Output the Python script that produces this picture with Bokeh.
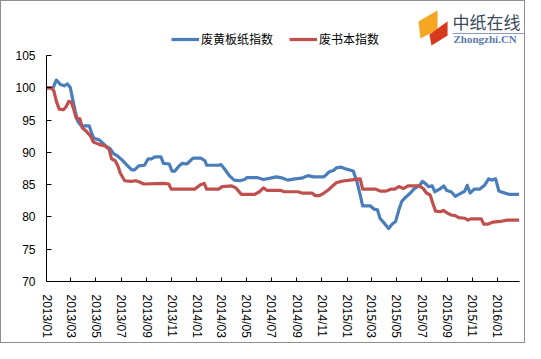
import pandas as pd
from bokeh.plotting import figure
from bokeh.models import (FixedTicker, DatetimeTickFormatter, Legend, LegendItem,
                          Label, PolyAnnotation, Range1d)
from bokeh.embed import file_html
from bokeh.resources import INLINE

series_names = ["废黄板纸指数", "废书本指数"]

blue_dates = ["2013-01-01", "2013-01-17", "2013-01-25", "2013-02-04", "2013-02-13", "2013-02-21",
              "2013-02-28", "2013-03-05", "2013-03-12", "2013-03-18", "2013-03-27", "2013-04-15",
              "2013-04-21", "2013-04-26", "2013-05-10", "2013-05-23", "2013-06-04", "2013-06-13",
              "2013-06-21", "2013-07-04", "2013-07-16", "2013-07-27", "2013-08-03", "2013-08-13",
              "2013-08-27", "2013-09-05", "2013-09-13", "2013-09-21", "2013-10-06", "2013-10-12",
              "2013-10-26", "2013-11-02", "2013-11-09", "2013-11-19", "2013-11-27", "2013-12-08",
              "2013-12-23", "2014-01-11", "2014-01-21", "2014-01-25", "2014-02-23", "2014-03-01",
              "2014-03-11", "2014-03-21", "2014-04-02", "2014-04-15", "2014-04-27", "2014-05-03",
              "2014-05-27", "2014-06-12", "2014-06-29", "2014-07-13", "2014-07-29", "2014-08-10",
              "2014-08-27", "2014-09-13", "2014-09-28", "2014-10-12", "2014-11-06", "2014-11-19",
              "2014-11-29", "2014-12-06", "2014-12-18", "2014-12-31", "2015-01-16", "2015-01-25",
              "2015-02-02", "2015-02-08", "2015-02-27", "2015-03-08", "2015-03-16", "2015-03-22",
              "2015-04-02", "2015-04-12", "2015-04-21", "2015-04-29", "2015-05-07", "2015-05-14",
              "2015-05-24", "2015-06-04", "2015-06-12", "2015-06-21", "2015-06-27", "2015-07-03",
              "2015-07-10", "2015-07-18", "2015-07-27", "2015-08-02", "2015-08-14", "2015-08-24",
              "2015-08-31", "2015-09-11", "2015-09-21", "2015-10-03", "2015-10-14", "2015-10-20",
              "2015-10-27", "2015-11-06", "2015-11-19", "2015-12-01", "2015-12-11", "2015-12-18",
              "2015-12-28", "2016-01-05", "2016-01-14", "2016-01-29", "2016-02-23"]
blue_values = [100.0, 100.0, 101.2, 100.5, 100.3, 100.6,
               100.0, 98.4, 96.3, 94.8, 94.1, 94.1,
               92.9, 92.2, 91.9, 91.1, 90.6, 89.8,
               89.5, 88.8, 88.0, 87.3, 87.3, 87.9,
               88.0, 89.0, 89.0, 89.3, 89.3, 88.3,
               88.2, 87.1, 87.1, 87.9, 88.3, 88.2,
               89.1, 89.1, 88.7, 88.0, 88.0, 88.1,
               87.3, 86.4, 85.7, 85.6, 85.8, 86.1,
               86.1, 85.8, 86.0, 86.2, 86.0, 85.7,
               85.9, 86.0, 86.4, 86.2, 86.2, 87.0,
               87.2, 87.6, 87.7, 87.4, 87.1, 85.5,
               83.4, 81.7, 81.7, 81.2, 81.1, 79.8,
               79.0, 78.2, 78.9, 79.3, 81.1, 82.4,
               83.1, 83.7, 84.3, 84.7, 84.9, 85.5,
               85.2, 84.7, 84.8, 83.9, 84.3, 84.8,
               84.1, 83.9, 83.2, 83.6, 84.0, 84.9,
               83.7, 84.3, 84.3, 84.9, 85.9, 85.7,
               85.9, 84.0, 83.8, 83.5, 83.5]

red_dates = ["2013-01-01", "2013-01-13", "2013-01-19", "2013-01-25", "2013-02-01", "2013-02-11",
             "2013-02-18", "2013-02-24", "2013-03-02", "2013-03-08", "2013-03-14", "2013-03-23",
             "2013-03-29", "2013-04-09", "2013-04-19", "2013-04-25", "2013-05-10", "2013-05-23",
             "2013-06-02", "2013-06-08", "2013-06-17", "2013-06-24", "2013-06-29", "2013-07-10",
             "2013-07-25", "2013-08-06", "2013-08-15", "2013-08-25", "2013-10-12", "2013-10-25",
             "2013-10-31", "2013-12-10", "2013-12-27", "2014-01-08", "2014-01-19", "2014-01-25",
             "2014-02-23", "2014-03-04", "2014-03-27", "2014-04-06", "2014-04-19", "2014-05-22",
             "2014-06-02", "2014-06-12", "2014-06-21", "2014-07-24", "2014-08-02", "2014-09-04",
             "2014-09-13", "2014-10-08", "2014-10-16", "2014-10-26", "2014-11-06", "2014-11-17",
             "2014-11-27", "2014-12-06", "2014-12-18", "2014-12-27", "2015-01-08", "2015-02-02",
             "2015-02-08", "2015-03-12", "2015-03-23", "2015-04-06", "2015-04-17", "2015-04-27",
             "2015-05-07", "2015-05-18", "2015-05-29", "2015-06-25", "2015-07-05", "2015-07-13",
             "2015-07-22", "2015-07-27", "2015-08-04", "2015-08-16", "2015-08-23", "2015-09-02",
             "2015-09-11", "2015-09-21", "2015-09-29", "2015-10-14", "2015-10-22", "2015-10-29",
             "2015-11-23", "2015-11-29", "2015-12-10", "2015-12-22", "2016-01-08", "2016-01-25",
             "2016-02-23"]
red_values = [100.0, 100.0, 99.5, 97.9, 96.7, 96.6,
              97.1, 97.9, 97.8, 96.7, 95.3, 95.2,
              93.8, 93.2, 92.4, 91.6, 91.2, 91.0,
              90.5, 89.0, 88.7, 87.8, 86.8, 85.6,
              85.5, 85.6, 85.4, 85.1, 85.2, 85.1,
              84.3, 84.3, 84.3, 84.9, 85.2, 84.3,
              84.3, 84.7, 84.8, 84.5, 83.5, 83.5,
              83.9, 84.5, 84.1, 84.1, 83.9, 83.9,
              83.7, 83.7, 83.3, 83.3, 83.7, 84.2,
              84.8, 85.3, 85.5, 85.6, 85.7, 85.9,
              84.3, 84.3, 84.0, 84.0, 84.3, 84.3,
              84.7, 84.4, 84.8, 84.8, 84.4, 83.7,
              83.4, 82.4, 80.9, 80.8, 81.0, 80.6,
              80.3, 80.2, 79.9, 79.8, 79.5, 79.7,
              79.7, 78.9, 78.9, 79.2, 79.3, 79.5,
              79.5]

tick_labels = ["2013/01", "2013/03", "2013/05", "2013/07", "2013/09", "2013/11",
               "2014/01", "2014/03", "2014/05", "2014/07", "2014/09", "2014/11",
               "2015/01", "2015/03", "2015/05", "2015/07", "2015/09", "2015/11",
               "2016/01"]
y_ticks = [70, 75, 80, 85, 90, 95, 100, 105]
x_start, x_end = "2013-01-01", "2016-02-24"

FONT = "Liberation Sans"
CJK = "Noto Sans CJK SC"
BLUE = "#4a7ebb"
RED = "#c0504d"

W, H = 525, 343
FL = 45            # canvas x of the y axis
AXIS_BOTTOM = 280  # canvas y of the x axis
AXIS_TOP = 54      # canvas y of the 105 tick
AXIS_RIGHT = 518   # canvas x of the end of the x axis
FB = H - AXIS_BOTTOM

# extend ranges so that the frame fills the canvas top/right; axes bounded
ymin, ymax = min(y_ticks), max(y_ticks)
plot_h = AXIS_BOTTOM - AXIS_TOP
y_top = ymax + (ymax - ymin) * AXIS_TOP / plot_h
t0, t1 = pd.Timestamp(x_start), pd.Timestamp(x_end)
frame_w = W - FL
axis_w = AXIS_RIGHT - FL
t_far = t0 + (t1 - t0) * (frame_w / axis_w)

p = figure(width=W, height=H, x_axis_type="datetime", output_backend="svg",
           toolbar_location=None, tools="",
           x_range=Range1d(t0, t_far), y_range=Range1d(ymin, y_top))
p.min_border_left = FL
p.min_border_right = 0
p.min_border_top = 0
p.min_border_bottom = FB
p.outline_line_color = None
p.xgrid.visible = False
p.ygrid.visible = False
p.background_fill_color = "white"
p.border_fill_color = "white"
p.styles = {"border": "1px solid #8f8f8f", "box-sizing": "border-box"}

bx = pd.to_datetime(blue_dates)
rx = pd.to_datetime(red_dates)
lb = p.line(bx, blue_values, line_color=BLUE, line_width=3.2, line_join="round")
lr = p.line(rx, red_values, line_color=RED, line_width=3.2, line_join="round")

# axes
tick_ms = [pd.Timestamp(t.replace("/", "-") + "-01").value / 1e6 for t in tick_labels]
p.xaxis.ticker = FixedTicker(ticks=tick_ms)
p.xaxis.bounds = (t0, t1)
fmt = "%Y/%m"
p.xaxis.formatter = DatetimeTickFormatter(years=fmt, months=fmt, days=fmt, hours=fmt,
                                          minutes=fmt, seconds=fmt, milliseconds=fmt,
                                          microseconds=fmt, hourmin=fmt, minsec=fmt)
p.xaxis.major_label_orientation = "vertical"
p.xaxis.major_label_standoff = 13
p.xaxis.major_tick_in = 4
p.xaxis.major_tick_out = 0
p.xaxis.minor_tick_line_color = None
p.yaxis.ticker = FixedTicker(ticks=y_ticks)
p.yaxis.bounds = (ymin, ymax)
p.yaxis.major_tick_in = 5
p.yaxis.major_tick_out = 0
p.yaxis.minor_tick_line_color = None
p.yaxis.major_label_standoff = 11
for ax in (p.xaxis, p.yaxis):
    ax.axis_line_color = "black"
    ax.axis_line_width = 1
    ax.major_tick_line_color = "black"
    ax.major_label_text_font = FONT
    ax.major_label_text_font_size = "12px"
    ax.major_label_text_color = "black"

# helpers: reference image px -> screen units relative to frame (y up)
def sx(X):
    return X - FL

def sy(Y):
    return AXIS_BOTTOM - Y

legend = Legend(items=[LegendItem(label=series_names[0], renderers=[lb]),
                       LegendItem(label=series_names[1], renderers=[lr])],
                orientation="horizontal", location=(sx(170), sy(46)),
                glyph_width=28, glyph_height=12, label_standoff=2, spacing=16,
                padding=0, margin=0, border_line_color=None,
                background_fill_alpha=0,
                label_text_font=CJK, label_text_font_size="12px",
                label_text_color="black")
p.add_layout(legend, "center")

# logo
p.add_layout(PolyAnnotation(xs=[sx(417), sx(436), sx(436), sx(419)],
                            ys=[sy(20), sy(9), sy(28), sy(37)],
                            xs_units="screen", ys_units="screen",
                            fill_color="#f5a623", fill_alpha=1, line_color="#f0b040", line_width=0.5))
p.add_layout(PolyAnnotation(xs=[sx(428), sx(446), sx(446), sx(430)],
                            ys=[sy(33), sy(20), sy(34), sy(44)],
                            xs_units="screen", ys_units="screen",
                            fill_color="#d83a1e", fill_alpha=1, line_color="#d83a1e", line_width=0.5))
p.add_layout(PolyAnnotation(xs=[sx(451), sx(523), sx(523), sx(451)],
                            ys=[sy(31.5), sy(31.5), sy(32.5), sy(32.5)],
                            xs_units="screen", ys_units="screen",
                            fill_color="#8a9cc0", fill_alpha=1, line_color=None))
p.add_layout(Label(x=sx(451), y=sy(32), x_units="screen", y_units="screen",
                   text="中纸在线", text_font=CJK, text_font_size="17px",
                   text_color="#3c4a5e", text_baseline="bottom"))
p.add_layout(Label(x=sx(452), y=sy(43), x_units="screen", y_units="screen",
                   text="Zhongzhi.CN", text_font="Liberation Serif", text_font_size="11px",
                   text_font_style="bold", text_color="#5a78aa", text_baseline="bottom"))

open("out.html", "w").write(file_html(p, INLINE))
